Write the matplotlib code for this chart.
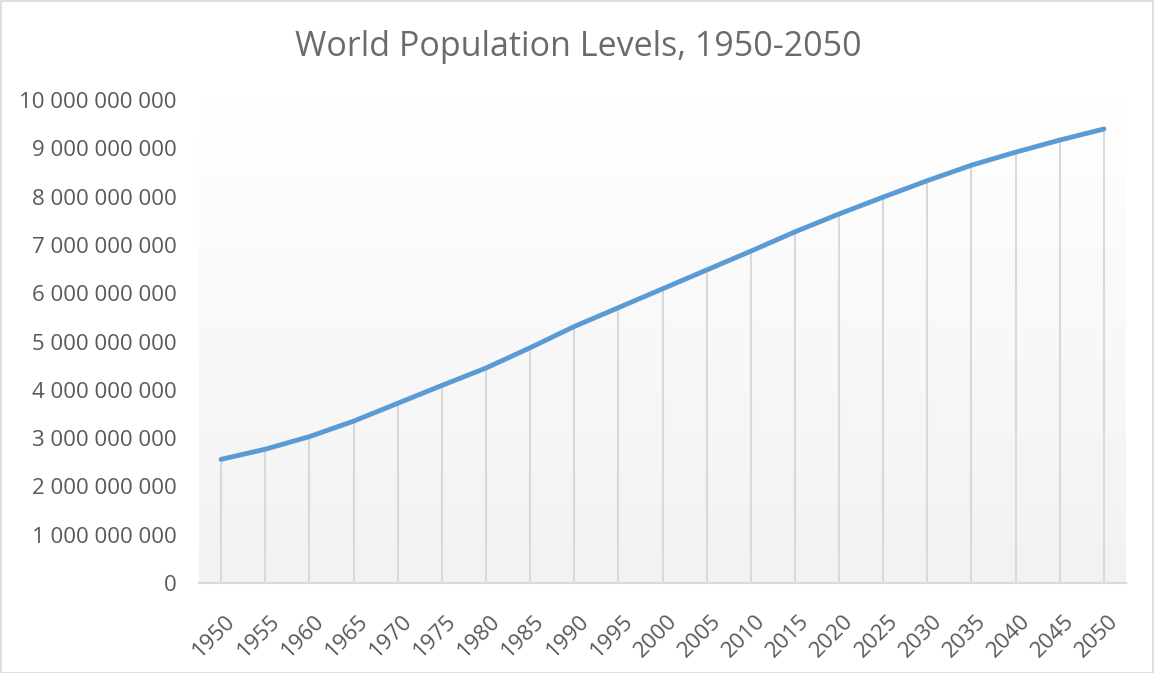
import numpy as np
import matplotlib
matplotlib.use("Agg")
import matplotlib.pyplot as plt
from matplotlib.ticker import FuncFormatter
from matplotlib.patches import Rectangle
from matplotlib.colors import LinearSegmentedColormap

years = [1950, 1955, 1960, 1965, 1970, 1975, 1980, 1985, 1990, 1995, 2000,
         2005, 2010, 2015, 2020, 2025, 2030, 2035, 2040, 2045, 2050]
population = [2.56e9, 2.77e9, 3.03e9, 3.35e9, 3.72e9, 4.09e9, 4.45e9, 4.87e9,
              5.31e9, 5.70e9, 6.09e9, 6.48e9, 6.87e9, 7.27e9, 7.64e9, 7.99e9,
              8.33e9, 8.65e9, 8.92e9, 9.17e9, 9.40e9]
y_ticks = [0, 1e9, 2e9, 3e9, 4e9, 5e9, 6e9, 7e9, 8e9, 9e9, 10e9]
title = "World Population Levels, 1950-2050"

plt.rcParams['font.family'] = ['Open Sans', 'DejaVu Sans']
W, H = 1154, 673
fig = plt.figure(figsize=(W / 100, H / 100), dpi=100)
fig.patch.set_facecolor('white')
ax = fig.add_axes([199 / W, 1 - 583 / H, (1126 - 199) / W, (583 - 100) / H])

x = np.arange(len(years))
ax.set_xlim(-0.5, len(years) - 0.5)
ax.set_ylim(0, 10e9)

# gradient background
cmap = LinearSegmentedColormap.from_list('g', ['#f2f2f2', '#ffffff'])
grad = np.linspace(0, 1, 256).reshape(-1, 1)
ax.imshow(grad, extent=(-0.5, len(years) - 0.5, 0, 10e9), origin='lower',
          aspect='auto', cmap=cmap, zorder=0)

# drop lines
ax.vlines(x, 0, population, colors='#d9d9d9', linewidth=1.5, zorder=1)
ax.plot(x, population, color='#5b9bd5', linewidth=3.5, solid_capstyle='round', zorder=3)

for s in ['top', 'right', 'left']:
    ax.spines[s].set_visible(False)
ax.spines['bottom'].set_color('#d9d9d9')
ax.spines['bottom'].set_linewidth(1.5)

ax.set_yticks(y_ticks)
ax.yaxis.set_major_formatter(FuncFormatter(lambda v, p: f"{int(v):,}".replace(",", " ")))
ax.set_xticks(x)
ax.set_xticklabels([str(y) for y in years], rotation=45, ha='right', va='top',
                   rotation_mode='anchor')
ax.tick_params(axis='both', length=0, labelsize=16, labelcolor='#595959')
ax.tick_params(axis='y', pad=16)
ax.tick_params(axis='x', pad=20)
for lbl in ax.get_xticklabels():
    lbl.set_transform(lbl.get_transform() + matplotlib.transforms.ScaledTranslation(4 / 100, 0, fig.dpi_scale_trans))

fig.text(578 / W, 1 - 47 / H, title, ha='center', va='center', fontsize=24.5,
         color='#6b6b6b')

fig.add_artist(Rectangle((0.5 / W, 0.5 / H), 1 - 1.5 / W, 1 - 1.5 / H,
                         transform=fig.transFigure, fill=False,
                         edgecolor='#d9d9d9', linewidth=1.2))

fig.savefig('out.png', dpi=100, facecolor='white')
